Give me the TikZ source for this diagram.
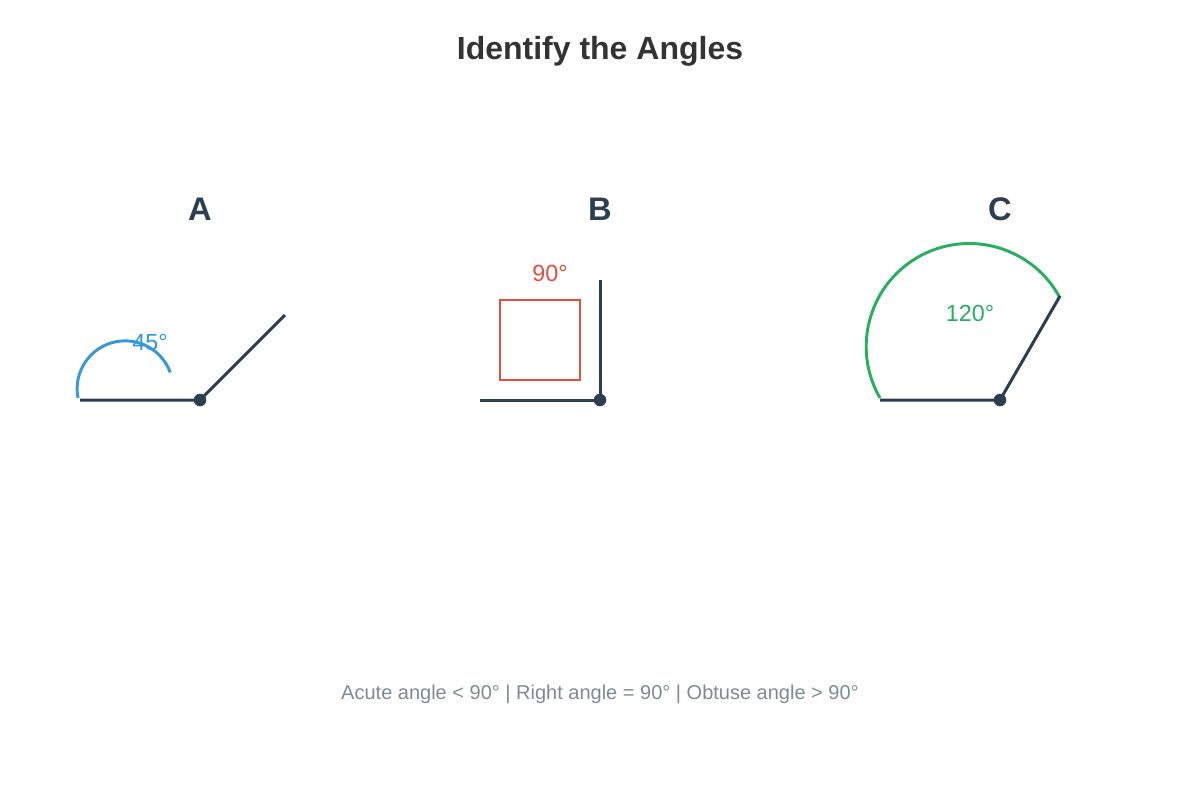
\documentclass[tikz,border=0pt]{standalone}
\usepackage{fontspec}
\setmainfont{Liberation Sans}
\usetikzlibrary{calc}

\definecolor{ink}{HTML}{2C3E50}
\definecolor{acute}{HTML}{3498DB}
\definecolor{rightc}{HTML}{E74C3C}
\definecolor{obtuse}{HTML}{27AE60}
\definecolor{note}{HTML}{7F8C8D}
\definecolor{head}{HTML}{333333}

\begin{document}
\begin{tikzpicture}  [x=0.75pt,y=-0.75pt]
\useasboundingbox (0,0) rectangle (1200,800);
\fill[white] (0,0) rectangle (1200,800);

\node[text=head,font=\bfseries\fontsize{24}{28}\selectfont] (title) at (600,51) {Identify the Angles};

% angle A
\coordinate (VA) at (200,400);
\coordinate (LA) at (80,400);
\coordinate (RA) at (285,315);
\node[text=ink,font=\bfseries\fontsize{24.5}{28}\selectfont] (nameA) at (200,209) {A};
\draw[acute,line width=2.2pt] (78,398) arc[start angle=169,end angle=340,radius=48];
\node[text=acute,font=\fontsize{17.5}{20}\selectfont] (degA) at (150,342) {45°};
\draw[ink,line width=2.25pt] (LA) -- (VA) -- (RA);
\filldraw[ink] (VA) circle (6);

% angle B
\coordinate (VB) at (600,400);
\coordinate (LB) at (480,400);
\coordinate (UB) at (600,280);
\node[text=ink,font=\bfseries\fontsize{24.5}{28}\selectfont] (nameB) at (600,209) {B};
\draw[rightc,line width=2.2pt] (500,300) rectangle (580,380);
\node[text=rightc,font=\fontsize{17.5}{20}\selectfont] (degB) at (550,273) {90°};
\draw[ink,line width=2.25pt] (LB) -- (VB) -- (UB);
\filldraw[ink] (VB) circle (6);

% angle C
\coordinate (VC) at (1000,400);
\coordinate (LC) at (880,400);
\coordinate (RC) at (1060,296);
\node[text=ink,font=\bfseries\fontsize{24.5}{28}\selectfont] (nameC) at (1000,209) {C};
\draw[obtuse,line width=2.2pt] (880,398) arc[start angle=150,end angle=331.4,radius=103];
\node[text=obtuse,font=\fontsize{17.5}{20}\selectfont] (degC) at (970,313) {120°};
\draw[ink,line width=2.25pt] (LC) -- (VC) -- (RC);
\filldraw[ink] (VC) circle (6);

\node[text=note,font=\fontsize{15}{18}\selectfont] (legend) at (600,694) {Acute angle < 90° | Right angle = 90° | Obtuse angle > 90°};

\end{tikzpicture}
\end{document}
